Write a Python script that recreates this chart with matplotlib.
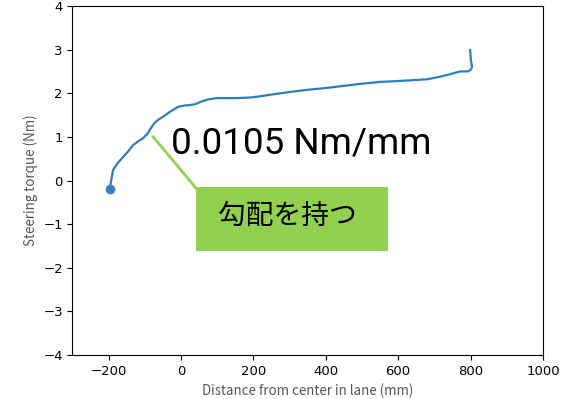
import matplotlib.pyplot as plt
from matplotlib.patches import Rectangle

# 読み取った曲線 (mm, Nm)
dist = [-197, -192, -188, -175, -160, -145, -133, -118, -105, -92, -82, -72, -62, -50,
        -30, -8, 10, 25, 40, 53, 75, 100, 130, 155, 185, 210, 250, 301, 350,
        400, 450, 500, 550, 600, 641, 680, 716, 745, 771, 793, 802, 804, 801, 799]
torque = [-0.2, 0.05, 0.24, 0.4, 0.54, 0.68, 0.81, 0.9, 0.97, 1.08, 1.22, 1.33, 1.4, 1.46,
          1.58, 1.69, 1.72, 1.73, 1.75, 1.8, 1.86, 1.89, 1.89, 1.89, 1.9, 1.92, 1.97, 2.03, 2.08,
          2.12, 2.17, 2.22, 2.26, 2.28, 2.3, 2.32, 2.38, 2.44, 2.5, 2.5, 2.55, 2.61, 2.76, 2.99]

slope_text = "0.0105 Nm/mm"
note_text = "勾配を持つ"

jp = ["Noto Sans CJK JP", "DejaVu Sans"]

fig = plt.figure(figsize=(5.62, 3.99), dpi=100)
ax = fig.add_axes([0.129, 0.110, 0.837, 0.875])

ax.plot(dist, torque, color="#2e7ebc", lw=1.6)
ax.plot(dist[0], torque[0], "o", color="#3f7fbf", ms=6)

ax.set_xlim(-300, 1000)
ax.set_ylim(-4, 4)
ax.set_xticks([-200, 0, 200, 400, 600, 800, 1000])
ax.set_yticks([-4, -3, -2, -1, 0, 1, 2, 3, 4])
ax.tick_params(labelsize=9.5)

ax.set_xlabel("Distance from center in lane (mm)", fontsize=9.6, color="#555555", family=jp)
ax.set_ylabel("Steering torque (Nm)", fontsize=9.6, color="#555555", family=jp)

# 注釈
ax.plot([-77, 41], [1.0, -0.17], color="#92d050", lw=2, clip_on=False)
ax.add_patch(Rectangle((41, -1.62), 531, 1.48, facecolor="#92d050", edgecolor="none"))
ax.text(293, -0.81, note_text, fontsize=20, ha="center", va="center", family=jp)
ax.text(332, 0.86, slope_text, fontsize=26.5, ha="center", va="center",
        family=["Roboto", "DejaVu Sans"])

fig.savefig("out.png", dpi=100)
